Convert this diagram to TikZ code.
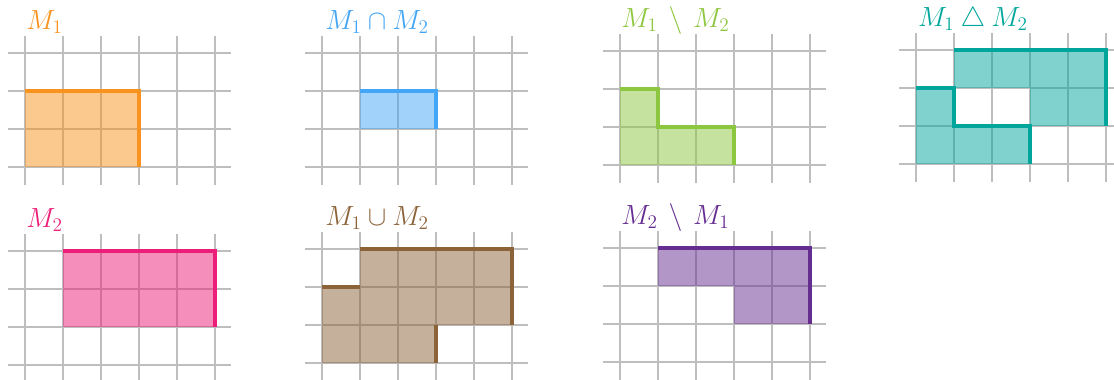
\documentclass[tikz,border=0pt]{standalone}
\definecolor{corange}{RGB}{247,147,30}
\definecolor{cblue}{RGB}{66,165,245}
\definecolor{cgreen}{RGB}{141,198,63}
\definecolor{cteal}{RGB}{0,166,156}
\definecolor{cpink}{RGB}{237,30,121}
\definecolor{cbrown}{RGB}{140,98,57}
\definecolor{cpurple}{RGB}{102,45,145}
\definecolor{cgrid}{RGB}{190,190,190}
\tikzset{
  gridline/.style={cgrid, line width=1.1pt},
  setfill/.style={fill=#1, fill opacity=0.5},
  setedge/.style={draw=#1, line width=2.5pt},
  setlabel/.style={text=#1, inner sep=0pt, anchor=base west, font=\huge},
}
\newcommand\panelgrid{%
  \foreach \yy in {0,...,3} \draw[gridline] (-0.45,\yy) -- (5.42,\yy);
  \foreach \xx in {0,...,5} \draw[gridline] (\xx,-0.47) -- (\xx,3.45);
}
\begin{document}
\begin{tikzpicture}
\useasboundingbox (0,0) rectangle (29.316,10);
% M1
\begin{scope}[shift={(0.658,5.605)}]
  \panelgrid
  \fill[setfill=corange] (0,0) rectangle (3,2);
  \draw[setedge=corange] (0,2) -- (3,2) -- (3,0);
  \node[setlabel=corange] (l1) at (0.03,3.63) {$M_1$};
\end{scope}
% intersection
\begin{scope}[shift={(8.474,5.605)}]
  \panelgrid
  \fill[setfill=cblue] (1,1) rectangle (3,2);
  \draw[setedge=cblue] (1,2) -- (3,2) -- (3,1);
  \node[setlabel=cblue] (l2) at (0.08,3.63) {$M_1 \cap M_2$};
\end{scope}
% M1 minus M2
\begin{scope}[shift={(16.316,5.658)}]
  \panelgrid
  \fill[setfill=cgreen] (0,0) -- (3,0) -- (3,1) -- (1,1) -- (1,2) -- (0,2) -- cycle;
  \draw[setedge=cgreen] (0,2) -- (1,2) -- (1,1) -- (3,1) -- (3,0);
  \node[setlabel=cgreen] (l3) at (0.03,3.63) {$M_1 \,\setminus\, M_2$};
\end{scope}
% symmetric difference
\begin{scope}[shift={(24.105,5.684)}]
  \panelgrid
  \fill[setfill=cteal] (0,0) -- (3,0) -- (3,1) -- (1,1) -- (1,2) -- (0,2) -- cycle
     (1,3) -- (5,3) -- (5,1) -- (3,1) -- (3,2) -- (1,2) -- cycle;
  \draw[setedge=cteal] (0,2) -- (1,2) -- (1,1) -- (3,1) -- (3,0);
  \draw[setedge=cteal] (1,3) -- (5,3) -- (5,1);
  \node[setlabel=cteal] (l4) at (0.05,3.63) {$M_1 \bigtriangleup M_2$};
\end{scope}
% M2
\begin{scope}[shift={(0.658,0.395)}]
  \panelgrid
  \fill[setfill=cpink] (1,1) rectangle (5,3);
  \draw[setedge=cpink] (1,3) -- (5,3) -- (5,1);
  \node[setlabel=cpink] (l5) at (0.03,3.63) {$M_2$};
\end{scope}
% union
\begin{scope}[shift={(8.474,0.447)}]
  \panelgrid
  \fill[setfill=cbrown] (0,0) -- (3,0) -- (3,1) -- (5,1) -- (5,3) -- (1,3) -- (1,2) -- (0,2) -- cycle;
  \draw[setedge=cbrown] (0,2) -- (1,2);
  \draw[setedge=cbrown] (1,3) -- (5,3) -- (5,1);
  \draw[setedge=cbrown] (3,1) -- (3,0);
  \node[setlabel=cbrown] (l6) at (0.08,3.63) {$M_1 \cup M_2$};
\end{scope}
% M2 minus M1
\begin{scope}[shift={(16.316,0.474)}]
  \panelgrid
  \fill[setfill=cpurple] (1,2) -- (1,3) -- (5,3) -- (5,1) -- (3,1) -- (3,2) -- cycle;
  \draw[setedge=cpurple] (1,3) -- (5,3) -- (5,1);
  \node[setlabel=cpurple] (l7) at (0.03,3.63) {$M_2 \,\setminus\, M_1$};
\end{scope}
\end{tikzpicture}
\end{document}
